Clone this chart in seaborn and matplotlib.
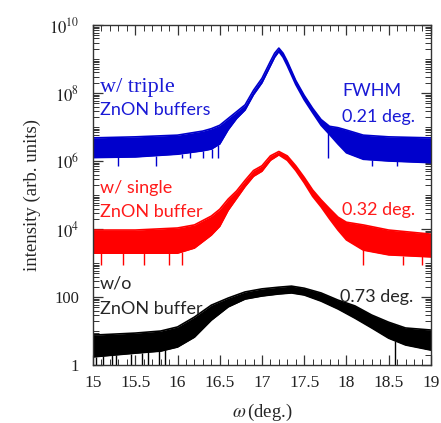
import numpy as np
import matplotlib
matplotlib.use("Agg")
import matplotlib.pyplot as plt
import matplotlib.ticker as ticker
import seaborn as sns

# omega positions (deg.) and log10 of the upper / lower edge of each noisy trace
triple_x = [15.0, 15.5, 16.0, 16.3, 16.4, 16.5, 16.6, 16.7, 16.8, 16.9, 17.0, 17.1, 17.15, 17.2,
            17.25, 17.3, 17.4, 17.5, 17.6, 17.7, 17.8, 17.9, 18.0, 18.2, 18.5, 19.0]
triple_hi = [6.68, 6.71, 6.76, 6.88, 6.95, 7.05, 7.25, 7.45, 7.65, 8.08, 8.43, 8.93, 9.17, 9.32,
             9.17, 8.93, 8.37, 7.93, 7.55, 7.22, 7.02, 6.98, 6.91, 6.76, 6.71, 6.68]
triple_lo = [6.10, 6.12, 6.20, 6.30, 6.35, 6.50, 6.92, 7.25, 7.50, 7.95, 8.30, 8.80, 9.05, 9.22,
             9.05, 8.80, 8.25, 7.80, 7.42, 7.05, 6.78, 6.50, 6.24, 6.05, 6.00, 5.95]
triple_spikes = [(16.05, 6.1), (16.15, 6.1), (16.3, 6.1), (16.41, 6.1), (16.48, 6.1),
                 (17.78, 6.1), (15.3, 5.85), (15.75, 5.85), (18.3, 5.85), (18.6, 5.85)]

single_x = [15.0, 15.5, 16.0, 16.2, 16.4, 16.5, 16.6, 16.7, 16.8, 16.9, 17.0, 17.1, 17.2,
            17.3, 17.4, 17.5, 17.6, 17.7, 17.8, 17.9, 18.0, 18.2, 18.5, 19.0]
single_hi = [3.97, 3.97, 4.03, 4.12, 4.38, 4.58, 4.88, 5.12, 5.43, 5.72, 5.86, 6.15, 6.28,
             6.15, 5.86, 5.52, 5.15, 4.86, 4.60, 4.35, 4.20, 4.12, 3.97, 3.85]
single_lo = [3.29, 3.29, 3.29, 3.44, 3.82, 4.08, 4.55, 4.90, 5.25, 5.55, 5.70, 6.02, 6.18,
             6.02, 5.72, 5.36, 4.96, 4.65, 4.30, 3.97, 3.68, 3.38, 3.24, 3.18]
single_spikes = [(15.1, 2.94), (15.35, 2.94), (15.6, 2.94), (15.9, 2.94), (16.05, 2.94),
                 (18.2, 2.94), (18.67, 2.94), (18.9, 2.94)]

none_x = [15.0, 15.5, 15.8, 16.0, 16.2, 16.4, 16.6, 16.8, 17.0, 17.2, 17.35, 17.5, 17.7,
          17.9, 18.1, 18.3, 18.5, 18.7, 19.0]
none_hi = [0.88, 0.94, 1.00, 1.12, 1.41, 1.76, 1.97, 2.15, 2.24, 2.29, 2.32, 2.26, 2.12,
           1.91, 1.74, 1.47, 1.26, 1.09, 1.03]
none_lo = [0.24, 0.35, 0.41, 0.53, 0.82, 1.32, 1.71, 1.94, 2.03, 2.09, 2.12, 2.06, 1.88,
           1.65, 1.38, 1.09, 0.79, 0.59, 0.44]
none_spikes = [(15.03, 0.0), (15.12, 0.0), (15.22, 0.0), (15.27, 0.0), (15.45, 0.0),
               (15.58, 0.0), (15.65, 0.0), (15.78, 0.0), (15.85, 0.0), (18.57, 0.0)]

sns.set_style("ticks")
plt.rcParams["font.family"] = ["Liberation Serif", "DejaVu Serif"]
plt.rcParams["mathtext.fontset"] = "stix"

fig = plt.figure(figsize=(4.41, 4.23), dpi=100)
ax = fig.add_axes([0.211, 0.137, 0.766, 0.804])

traces = [
    (triple_x, triple_hi, triple_lo, triple_spikes, "#0000CC"),
    (single_x, single_hi, single_lo, single_spikes, "#FF0000"),
    (none_x, none_hi, none_lo, none_spikes, "#000000"),
]
for xs, hi, lo, spikes, col in traces:
    xs = np.array(xs)
    hi = 10 ** np.array(hi)
    lo = 10 ** np.array(lo)
    ax.fill_between(xs, lo, hi, color=col, lw=0)
    sns.lineplot(x=xs, y=hi, color=col, lw=1.2, ax=ax)
    sns.lineplot(x=xs, y=lo, color=col, lw=1.2, ax=ax)
    for sx, sy in spikes:
        top = 10 ** np.interp(sx, xs, np.log10(lo))
        ax.vlines(sx, 10 ** sy, top, color=col, lw=1.0)

ax.set_yscale("log")
ax.set_xlim(15, 19)
ax.set_ylim(1, 1e10)

ax.xaxis.set_major_locator(ticker.MultipleLocator(0.5))
ax.xaxis.set_minor_locator(ticker.MultipleLocator(0.1))
ax.xaxis.set_major_formatter(ticker.FuncFormatter(lambda v, p: f"{v:g}"))

ymaj = [1, 1e2, 1e4, 1e6, 1e8, 1e10]
ylab = ["1", "100", r"$10^4$", r"$10^6$", r"$10^8$", r"$10^{10}$"]
ax.yaxis.set_major_locator(ticker.FixedLocator(ymaj))
ax.yaxis.set_major_formatter(ticker.FixedFormatter(ylab))
ax.yaxis.set_minor_locator(ticker.LogLocator(base=10, subs=np.arange(1, 10), numticks=30))
ax.yaxis.set_minor_formatter(ticker.NullFormatter())

ax.tick_params(which="both", direction="in", top=True, right=True, color="#333333")
ax.tick_params(which="major", length=7, width=0.9)
ax.tick_params(which="minor", length=4, width=0.7)
ax.tick_params(axis="x", which="major", labelsize=12.5, pad=7, labelcolor="#222222")
ax.tick_params(axis="y", which="major", labelsize=12, pad=10, labelcolor="#222222")
for s in ax.spines.values():
    s.set_color("#333333")
    s.set_linewidth(1.0)

ax.set_xlabel(r"$\omega\,$(deg.)", fontsize=13.5, labelpad=8)
ax.set_ylabel("intensity (arb. units)", fontsize=13.5, labelpad=6)

sans = ["Lato", "DejaVu Sans"]
serif = ["Liberation Serif", "DejaVu Serif"]
labels = [
    (15.08, 8.15, "w/ triple", "#1A1AD6", 16, serif),
    (15.08, 7.5, "ZnON buffers", "#1A1AD6", 13, sans),
    (17.95, 8.05, "FWHM", "#1A1AD6", 13, sans),
    (17.95, 7.28, "0.21 deg.", "#1A1AD6", 13, sans),
    (15.08, 5.2, "w/ single", "#FF1A1A", 13, sans),
    (15.08, 4.5, "ZnON buffer", "#FF1A1A", 13, sans),
    (17.95, 4.56, "0.32 deg.", "#FF1A1A", 13, sans),
    (15.08, 2.41, "w/o", "#262626", 13, sans),
    (15.08, 1.65, "ZnON buffer", "#262626", 13, sans),
    (17.93, 2.0, "0.73 deg.", "#262626", 13, sans),
]
for x, ly, t, c, fs, fam in labels:
    ax.text(x, 10 ** ly, t, color=c, fontsize=fs, family=fam, va="center", ha="left")

fig.savefig("out.png", dpi=100)
